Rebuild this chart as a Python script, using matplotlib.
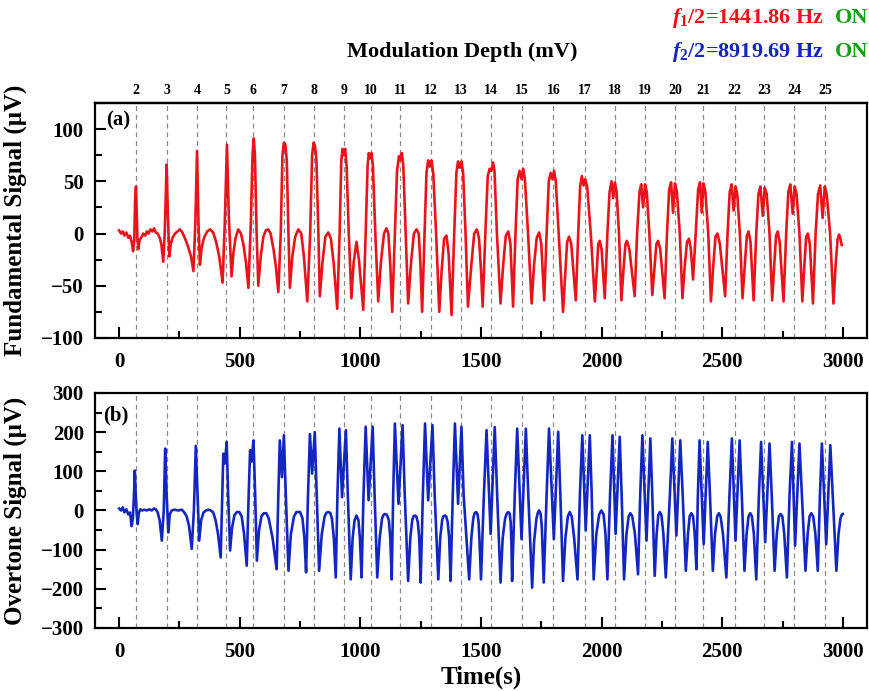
import numpy as np
import matplotlib
matplotlib.use("Agg")
import matplotlib.pyplot as plt
from matplotlib.ticker import MultipleLocator

# ---- data ----
# modulation depth markers (dashed lines) and their labels
depth_t = [71, 197, 322, 445, 554, 682, 807, 933, 1043, 1166, 1291, 1417,
           1542, 1670, 1800, 1932, 2055, 2180, 2305, 2420, 2552, 2674, 2798, 2926]
depth_labels = [str(d) for d in range(2, 26)]

# fundamental signal (uV), traced vertices (time s, value)
fundamental = [
    (0, 3), (8, 0), (15, 2), (22, -2), (30, 1), (38, -4), (45, -2), (52, -8), (58, -17),
    (63, -6), (66, 30), (70, 45), (73, 20), (76, -5), (80, -15), (85, -6), (92, -4), (100, 0),
    (108, -2), (115, 2), (122, 0), (130, 4), (138, 2), (145, 5), (152, 1), (160, 0), (168, -4),
    (175, -10), (183, -27),
    (189, 0), (197, 66), (202, 20), (208, -22), (214, -10), (222, -4), (232, 0), (242, 2),
    (252, 4), (262, 1), (272, -4), (285, -12), (298, -22), (308, -36),
    (316, 10), (323, 79), (329, 10), (335, -30), (342, -14), (352, -4), (365, 2), (377, 4),
    (390, 1), (402, -8), (415, -22), (429, -47),
    (438, 10), (447, 85), (455, 15), (466, -41), (474, -18), (483, -4), (494, 4), (505, 0),
    (515, -10), (526, -28), (536, -52),
    (546, 10), (553, 75), (558, 91), (563, 75), (570, 0), (577, -50), (587, -22), (598, -3),
    (608, 3), (618, 4), (628, 0), (640, -15), (650, -32), (660, -56),
    (670, 0), (677, 75), (683, 87), (689, 85), (695, 70), (702, 0), (708, -52), (718, -22),
    (730, -3), (743, 4), (755, 0), (766, -22), (780, -65),
    (792, 0), (800, 75), (806, 87), (812, 84), (818, 70), (826, 0), (832, -60), (843, -28),
    (855, -3), (867, 1), (878, -5), (890, -30), (904, -72),
    (914, 0), (921, 70), (926, 81), (931, 75), (937, 81), (943, 65), (952, 0), (963, -62),
    (972, -28), (984, -8), (994, -25), (1012, -73),
    (1022, 0), (1030, 65), (1035, 77), (1040, 72), (1046, 77), (1052, 65), (1062, 0),
    (1074, -65), (1085, -28), (1098, 0), (1108, 5), (1116, 0), (1124, -30), (1132, -75),
    (1143, 0), (1152, 60), (1160, 74), (1166, 70), (1172, 77), (1178, 65), (1188, 0),
    (1198, -67), (1210, -28), (1222, 0), (1233, 4), (1242, 0), (1249, -30), (1256, -75),
    (1266, 0), (1274, 58), (1281, 70), (1288, 64), (1295, 70), (1302, 58), (1314, 0),
    (1327, -75), (1337, -35), (1347, -5), (1357, -2), (1366, -20), (1378, -78),
    (1389, 0), (1398, 58), (1405, 69), (1412, 63), (1419, 69), (1426, 58), (1436, 0),
    (1446, -70), (1460, -30), (1472, 0), (1483, 4), (1492, -5), (1500, -35), (1507, -70),
    (1518, 0), (1528, 55), (1536, 62), (1543, 60), (1550, 68), (1556, 60), (1566, 0),
    (1581, -67), (1592, -30), (1603, -2), (1613, 2), (1622, -10), (1633, -70),
    (1643, 0), (1652, 52), (1660, 60), (1668, 52), (1675, 62), (1682, 52), (1695, 0),
    (1710, -67), (1720, -30), (1731, -4), (1741, 1), (1750, -10), (1762, -64),
    (1772, 0), (1781, 50), (1789, 58), (1796, 52), (1803, 60), (1810, 50), (1822, 0),
    (1840, -75), (1850, -35), (1857, -8), (1865, -3), (1874, -10), (1893, -64),
    (1903, 0), (1911, 45), (1918, 55), (1925, 46), (1932, 52), (1940, 45), (1955, 0),
    (1972, -65), (1980, -35), (1986, -10), (1992, -7), (2000, -15), (2013, -62),
    (2024, 0), (2033, 40), (2041, 50), (2048, 34), (2055, 49), (2062, 40), (2072, 0),
    (2082, -64), (2092, -30), (2099, -10), (2105, -7), (2115, -15), (2137, -60),
    (2147, 0), (2157, 40), (2164, 47), (2172, 25), (2180, 47), (2187, 40), (2198, 0),
    (2210, -59), (2220, -30), (2227, -10), (2234, -7), (2243, -15), (2261, -62),
    (2271, 0), (2280, 42), (2288, 49), (2296, 20), (2304, 48), (2312, 40), (2324, 0),
    (2335, -62), (2345, -30), (2354, -8), (2362, -5), (2370, -15), (2379, -44),
    (2390, 0), (2400, 42), (2408, 49), (2415, 20), (2422, 48), (2430, 40), (2442, 0),
    (2453, -65), (2463, -30), (2472, -3), (2480, 0), (2490, -10), (2512, -60),
    (2522, 0), (2531, 40), (2539, 47), (2547, 22), (2555, 45), (2562, 38), (2573, 0),
    (2584, -62), (2594, -28), (2602, -2), (2609, 2), (2617, -8), (2630, -64),
    (2641, 0), (2650, 38), (2658, 45), (2668, 17), (2676, 44), (2684, 38), (2696, 0),
    (2707, -64), (2716, -28), (2723, -2), (2730, 2), (2738, -8), (2754, -65),
    (2765, 0), (2774, 40), (2782, 47), (2792, 19), (2800, 45), (2808, 38), (2820, 0),
    (2832, -65), (2841, -28), (2848, -3), (2855, 0), (2863, -10), (2876, -67),
    (2887, 0), (2897, 38), (2906, 46), (2916, 15), (2925, 45), (2933, 38), (2947, 0),
    (2961, -67), (2970, -30), (2978, -6), (2984, -1), (2990, -5), (2995, -11),
]

# overtone signal (uV), traced vertices (time s, value)
overtone = [
    (0, 5), (8, 0), (15, 8), (22, -5), (30, 3), (38, -10), (45, -5), (52, -40), (57, -20),
    (61, 30), (65, 102), (69, 40), (73, -10), (77, -35), (82, -5), (88, 3), (95, 0), (105, 2),
    (115, 0), (125, 3), (135, 0), (145, 5), (152, 3), (160, -5), (168, -25), (177, -77),
    (185, 0), (191, 158), (197, 40), (204, -56), (210, -10), (218, 0), (230, 2), (245, 0),
    (260, 2), (270, -5), (280, -15), (290, -40), (301, -98),
    (310, 0), (318, 165), (325, 40), (332, -77), (340, -25), (350, -5), (360, 0), (370, 2),
    (380, 0), (390, -5), (400, -25), (410, -60), (421, -120),
    (427, 20), (432, 145), (438, 120), (446, 175), (452, 40), (460, -102), (468, -45),
    (478, -12), (488, -4), (498, -4), (508, -15), (518, -60), (529, -141),
    (537, 40), (543, 154), (549, 125), (557, 179), (564, 40), (571, -128), (580, -50),
    (590, -15), (600, -7), (610, -7), (620, -20), (636, -70), (653, -150),
    (660, 40), (666, 179), (675, 85), (683, 192), (691, 40), (702, -154), (712, -60),
    (725, -15), (735, -4), (750, -4), (760, -20), (768, -70), (775, -158),
    (783, 40), (791, 195), (800, 94), (811, 200), (819, 40), (829, -154), (840, -60),
    (852, -15), (859, -6), (867, -4), (875, -6), (882, -20), (890, -70), (898, -171),
    (905, 40), (913, 209), (924, 34), (940, 205), (948, 40), (960, -176), (968, -70),
    (976, -25), (984, -13), (992, -25), (998, -70), (1005, -171),
    (1013, 40), (1022, 214), (1034, 26), (1051, 214), (1059, 40), (1070, -171), (1080, -70),
    (1090, -20), (1096, -11), (1102, -9), (1110, -11), (1118, -25), (1124, -70), (1130, -176),
    (1136, 40), (1143, 222), (1158, 17), (1175, 218), (1184, 40), (1198, -180), (1207, -70),
    (1215, -25), (1220, -15), (1226, -13), (1232, -15), (1238, -30), (1244, -70), (1250, -184),
    (1259, 40), (1268, 222), (1281, 26), (1299, 218), (1308, 40), (1323, -176), (1331, -70),
    (1339, -25), (1344, -15), (1350, -13), (1356, -15), (1362, -30), (1368, -70), (1374, -180),
    (1383, 40), (1392, 222), (1405, 17), (1419, 214), (1428, 40), (1451, -176), (1460, -70),
    (1468, -20), (1474, -6), (1480, -4), (1486, -10), (1490, -30), (1494, -80), (1500, -176),
    (1512, 40), (1523, 205), (1540, -60), (1557, 213), (1567, 40), (1581, -184), (1590, -70),
    (1600, -20), (1607, -8), (1613, -4), (1619, -8), (1623, -30), (1626, -80), (1629, -180),
    (1640, 40), (1650, 209), (1668, -73), (1686, 209), (1696, 40), (1712, -197), (1720, -80),
    (1730, -20), (1736, -5), (1741, 0), (1747, -8), (1752, -40), (1760, -184),
    (1772, 40), (1782, 209), (1802, -73), (1820, 201), (1829, 40), (1840, -180), (1850, -70),
    (1860, -15), (1868, -4), (1876, -15), (1886, -70), (1900, -176),
    (1910, 40), (1920, 192), (1934, -51), (1951, 192), (1959, 40), (1967, -176), (1978, -60),
    (1990, -10), (1999, 0), (2008, -10), (2016, -60), (2024, -176),
    (2035, 40), (2045, 192), (2058, -60), (2075, 188), (2083, 40), (2093, -176), (2103, -60),
    (2112, -15), (2119, -7), (2127, -15), (2138, -60), (2151, -163),
    (2160, 40), (2169, 192), (2186, -77), (2202, 184), (2210, 40), (2220, -167), (2228, -60),
    (2235, -12), (2241, -4), (2248, -12), (2256, -60), (2266, -171),
    (2283, 40), (2293, 184), (2310, -64), (2326, 179), (2336, 40), (2349, -154), (2358, -60),
    (2365, -15), (2372, -7), (2379, -15), (2386, -60), (2393, -150),
    (2399, 40), (2406, 179), (2423, -86), (2440, 175), (2449, 40), (2461, -154), (2470, -60),
    (2479, -15), (2486, -7), (2493, -15), (2503, -60), (2517, -171),
    (2530, 40), (2540, 184), (2555, -77), (2572, 179), (2581, 40), (2592, -154), (2601, -60),
    (2609, -15), (2616, -7), (2623, -15), (2631, -60), (2641, -176),
    (2652, 40), (2661, 175), (2678, -81), (2696, 171), (2705, 40), (2717, -154), (2726, -60),
    (2735, -15), (2742, -9), (2749, -15), (2757, -60), (2768, -171),
    (2779, 40), (2789, 175), (2802, -90), (2820, 171), (2830, 40), (2845, -154), (2854, -60),
    (2862, -15), (2869, -7), (2877, -15), (2886, -60), (2896, -154),
    (2905, 40), (2913, 171), (2931, -86), (2948, 167), (2958, 40), (2973, -154), (2982, -60),
    (2990, -20), (2996, -10), (3000, -9),
]

f1_text = r'$f_1$/2=1441.86 Hz'
f2_text = r'$f_2$/2=8919.69 Hz'

# ---- style ----
plt.rcParams['font.family'] = ['Liberation Serif', 'DejaVu Serif']
plt.rcParams['font.weight'] = 'bold'
plt.rcParams['mathtext.fontset'] = 'custom'
plt.rcParams['mathtext.rm'] = 'Liberation Serif:bold'
plt.rcParams['mathtext.it'] = 'Liberation Serif:italic:bold'
plt.rcParams['mathtext.bf'] = 'Liberation Serif:bold'

RED = '#e8141c'
BLUE = '#1426c0'
GREEN = '#12a012'

fig = plt.figure(figsize=(8.69, 6.91), dpi=100)
ax1 = fig.add_axes([0.1093, 0.5109, 0.8884, 0.3401])
ax2 = fig.add_axes([0.1093, 0.0912, 0.8884, 0.3401])

ft, fv = zip(*fundamental)
ot, ov = zip(*overtone)
ax1.plot(ft, fv, color=RED, lw=1.9, zorder=3)
ax2.plot(ot, ov, color=BLUE, lw=1.9, zorder=3)

for ax in (ax1, ax2):
    for t in depth_t:
        ax.axvline(t, color='#8a8a8a', ls=(0, (4, 3)), lw=0.9, zorder=1)
    ax.set_xlim(-100, 3100)
    ax.xaxis.set_major_locator(MultipleLocator(500))
    ax.xaxis.set_minor_locator(MultipleLocator(250))
    ax.tick_params(which='both', direction='in', top=False, right=False, width=1.5,
                   labelsize=15)
    ax.tick_params(which='major', length=8)
    ax.tick_params(which='minor', length=5)
    ax.tick_params(axis='x', pad=10)
    ax.tick_params(axis='y', pad=8)
    for s in ax.spines.values():
        s.set_linewidth(1.6)

ax1.set_ylim(-100, 125)
ax1.yaxis.set_major_locator(MultipleLocator(50))
ax1.yaxis.set_minor_locator(MultipleLocator(25))
ax2.set_ylim(-300, 300)
ax2.yaxis.set_major_locator(MultipleLocator(100))
ax2.yaxis.set_minor_locator(MultipleLocator(50))

ax1.set_ylabel('Fundamental Signal (μV)', fontsize=18, fontweight='bold')
ax2.set_ylabel('Overtone Signal (μV)', fontsize=18, fontweight='bold')
ax1.yaxis.set_label_coords(-0.088, 0.5)
ax2.yaxis.set_label_coords(-0.088, 0.5)
ax2.set_xlabel('Time(s)', fontsize=18, fontweight='bold', labelpad=3)

ax1.text(0.015, 0.925, '(a)', transform=ax1.transAxes, fontsize=15,
         fontweight='bold', va='center', ha='left')
ax2.text(0.01, 0.905, '(b)', transform=ax2.transAxes, fontsize=15,
         fontweight='bold', va='center', ha='left')

# top axis: modulation depth
sec = ax1.secondary_xaxis('top')
sec.set_xticks(depth_t, labels=depth_labels)
sec.tick_params(length=0, pad=4, labelsize=10)
sec.spines['top'].set_linewidth(1.6)
fig.text(462 / 869, 1 - 52 / 691, 'Modulation Depth (mV)', fontsize=16,
         fontweight='bold', ha='center', va='center')

fig.text(824 / 869, 1 - 18 / 691, f1_text, color=RED, fontsize=16,
         fontweight='bold', ha='right', va='center')
fig.text(868 / 869, 1 - 18 / 691, 'ON', color=GREEN, fontsize=16,
         fontweight='bold', ha='right', va='center')
fig.text(824 / 869, 1 - 52 / 691, f2_text, color=BLUE, fontsize=16,
         fontweight='bold', ha='right', va='center')
fig.text(868 / 869, 1 - 52 / 691, 'ON', color=GREEN, fontsize=16,
         fontweight='bold', ha='right', va='center')

fig.savefig('out.png', dpi=100)
